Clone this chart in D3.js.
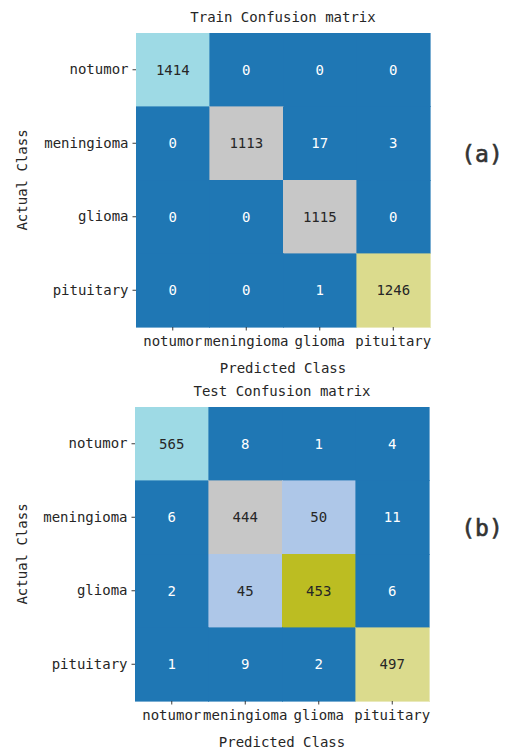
<!DOCTYPE html>
<html><head><meta charset="utf-8">
<script src="https://cdn.jsdelivr.net/npm/d3@7"></script>
<style>body{margin:0;background:#fff}svg{display:block}</style>
</head><body>
<svg id="c" width="508" height="749"></svg>
<script>
const classes = ["notumor","meningioma","glioma","pituitary"];
const trainMatrix = [
  [1414, 0, 0, 0],
  [0, 1113, 17, 3],
  [0, 0, 1115, 0],
  [0, 0, 1, 1246]
];
const testMatrix = [
  [565, 8, 1, 4],
  [6, 444, 50, 11],
  [2, 45, 453, 6],
  [1, 9, 2, 497]
];
const titles = ["Train Confusion matrix","Test Confusion matrix"];
const panelLabels = ["(a)","(b)"];
const xLabel = "Predicted Class", yLabel = "Actual Class";

const tab20 = ["#1f77b4","#aec7e8","#ff7f0e","#ffbb78","#2ca02c","#98df8a","#d62728","#ff9896","#9467bd","#c5b0d5",
  "#8c564b","#c49c94","#e377c2","#f7b6d2","#7f7f7f","#c7c7c7","#bcbd22","#dbdb8d","#17becf","#9edae5"];
const FONT = "'DejaVu Sans Mono', monospace";
const txt = "#262626";
const svg = d3.select("#c");

function lum(c){
  const r = d3.rgb(c);
  const f = v => { v/=255; return v<=0.03928 ? v/12.92 : Math.pow((v+0.055)/1.055,2.4); };
  return 0.2126*f(r.r)+0.7152*f(r.g)+0.0722*f(r.b);
}

function panel(matrix, title, plabel, left, top){
  const size = 294;
  const x = d3.scaleBand().domain(classes).range([left, left+size]);
  const y = d3.scaleBand().domain(classes).range([top, top+size]);
  const vals = matrix.flat();
  const color = d3.scaleQuantize().domain([d3.min(vals), d3.max(vals)]).range(tab20);
  const g = svg.append("g");
  const cells = [];
  matrix.forEach((row,i)=>row.forEach((v,j)=>cells.push({r:classes[i],c:classes[j],v})));
  g.selectAll("rect").data(cells).join("rect")
    .attr("x",d=>x(d.c)).attr("y",d=>y(d.r))
    .attr("width",x.bandwidth()).attr("height",y.bandwidth())
    .attr("fill",d=>color(d.v))
    .attr("stroke",d=>color(d.v)).attr("stroke-width",0.6)
    .attr("shape-rendering","crispEdges");
  g.selectAll("text.ann").data(cells).join("text").attr("class","ann")
    .attr("x",d=>x(d.c)+x.bandwidth()/2).attr("y",d=>y(d.r)+y.bandwidth()/2)
    .attr("text-anchor","middle").attr("dominant-baseline","central")
    .attr("font-family",FONT).attr("font-size",14)
    .attr("fill",d=>lum(color(d.v))>0.408 ? txt : "#ffffff")
    .text(d=>d.v);
  const xa = svg.append("g").attr("transform",`translate(0,${top+size})`)
    .call(d3.axisBottom(x).tickSize(3.5).tickPadding(4));
  const ya = svg.append("g").attr("transform",`translate(${left},0)`)
    .call(d3.axisLeft(y).tickSize(3.5).tickPadding(4));
  [xa,ya].forEach(a=>{
    a.select(".domain").remove();
    a.selectAll("line").attr("stroke",txt).attr("stroke-width",0.9);
    a.selectAll("text").attr("font-family",FONT).attr("font-size",14).attr("fill",txt);
  });
  xa.selectAll("text").attr("dy","0.85em");
  svg.append("text").attr("x",left+size/2).attr("y",top-16)
    .attr("text-anchor","middle").attr("dominant-baseline","central")
    .attr("font-family",FONT).attr("font-size",14).attr("fill",txt).text(title);
  svg.append("text").attr("x",left+size/2).attr("y",top+size+41)
    .attr("text-anchor","middle").attr("dominant-baseline","central")
    .attr("font-family",FONT).attr("font-size",14).attr("fill",txt).text(xLabel);
  svg.append("text").attr("transform",`translate(22,${top+size/2}) rotate(-90)`)
    .attr("text-anchor","middle").attr("dominant-baseline","central")
    .attr("font-family",FONT).attr("font-size",14).attr("fill",txt).text(yLabel);
  svg.append("text").attr("x",482).attr("y",top+size/2-26)
    .attr("text-anchor","middle").attr("dominant-baseline","central")
    .attr("font-family",FONT).attr("font-size",23)
    .attr("stroke","#333").attr("stroke-width",0.6)
    .attr("fill","#333").text(plabel);
}
panel(trainMatrix, titles[0], panelLabels[0], 136, 33);
panel(testMatrix, titles[1], panelLabels[1], 135, 407);
</script>
</body></html>
